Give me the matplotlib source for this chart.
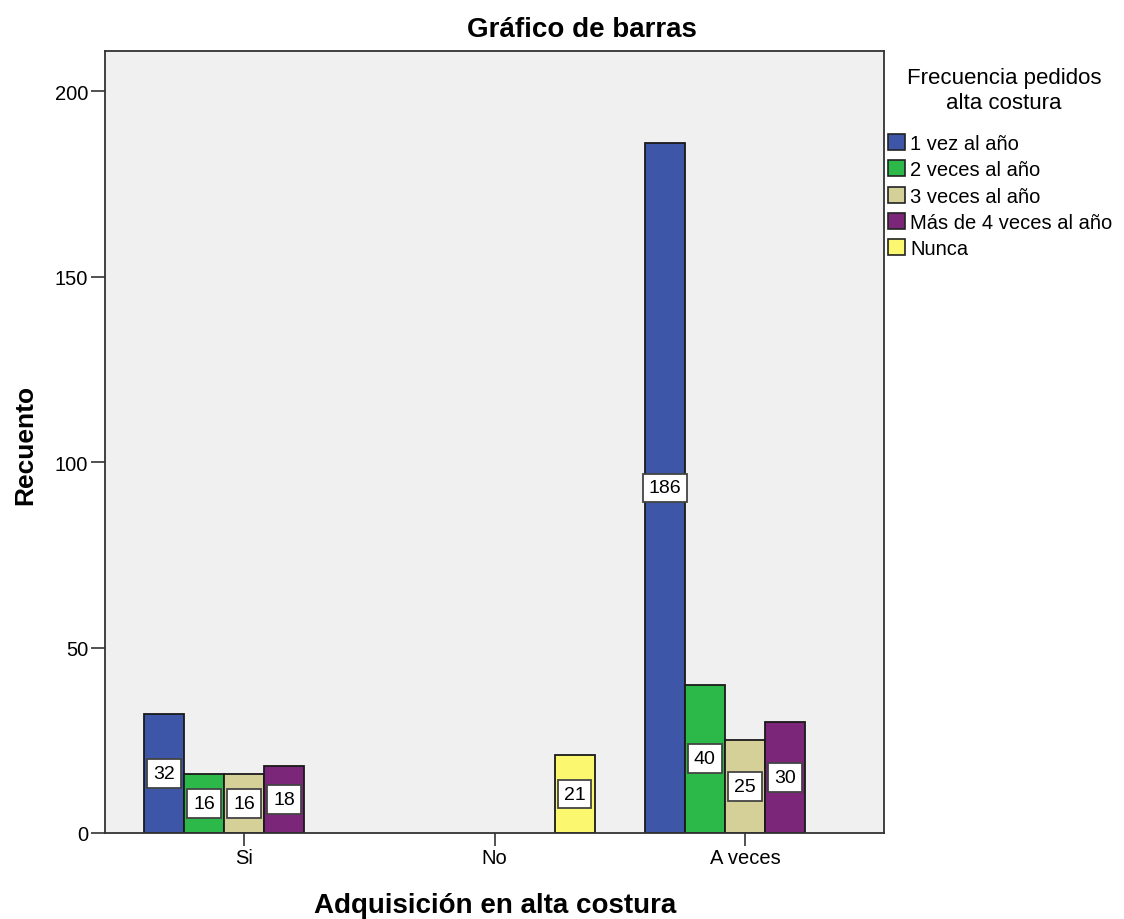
import matplotlib
matplotlib.use('Agg')
import matplotlib.pyplot as plt
from matplotlib.patches import Patch
import numpy as np

plt.rcParams['font.family'] = ['Liberation Sans', 'DejaVu Sans']

categories = ['Si', 'No', 'A veces']
series_names = ['1 vez al año', '2 veces al año', '3 veces al año',
                'Más de 4 veces al año', 'Nunca']
vez_1 = [32, np.nan, 186]
veces_2 = [16, np.nan, 40]
veces_3 = [16, np.nan, 25]
veces_4_mas = [18, np.nan, 30]
nunca = [np.nan, 21, np.nan]
series_values = [vez_1, veces_2, veces_3, veces_4_mas, nunca]
colors = ['#3D56A8', '#2DB84A', '#D5CF98', '#7B2678', '#FBF870']

fig = plt.figure(figsize=(11.24, 9.2), dpi=100)
ax = fig.add_axes([105/1124, 86/920, 779/1124, 782/920])
ax.set_facecolor('#F0F0F0')

x = np.arange(len(categories))
width = 0.16
for i, (name, vals, col) in enumerate(zip(series_names, series_values, colors)):
    offs = (i - 2) * width
    ax.bar(x + offs, vals, width, color=col, edgecolor='#1a1a1a', linewidth=1.3, zorder=2)
    for xi, v in zip(x, vals):
        if not np.isnan(v):
            ax.text(xi + offs, v / 2, f'{int(v)}', ha='center', va='center', fontsize=14,
                    zorder=3,
                    bbox=dict(boxstyle='square,pad=0.3', fc='white', ec='#444444', lw=1.3))

ax.set_xlim(-0.555, 2.555)
ax.set_ylim(0, 210.8)
ax.set_xticks(x)
ax.set_xticklabels(categories, fontsize=14.5)
ax.set_yticks([0, 50, 100, 150, 200])
ax.tick_params(axis='y', labelsize=14.5, length=10, width=1.2, color='#333333', pad=2)
ax.tick_params(axis='x', labelsize=14.5, length=9, width=1.2, color='#333333', pad=2)
for s in ax.spines.values():
    s.set_color('#333333')
    s.set_linewidth(1.3)

fig.text(582/1124, 1 - 30/920, 'Gráfico de barras', ha='center', va='center',
         fontsize=20, fontweight='bold')
fig.text(25/1124, 1 - 445/920, 'Recuento', ha='center', va='center', rotation=90,
         fontsize=19, fontweight='bold')
fig.text(495/1124, 1 - 906/920, 'Adquisición en alta costura', ha='center', va='center',
         fontsize=20, fontweight='bold')

# legend title
fig.text(1004/1124, 1 - 91/920, 'Frecuencia pedidos\nalta costura', ha='center',
         va='center', fontsize=16, linespacing=1.2)

handles = [Patch(facecolor=c, edgecolor='#222222', linewidth=1.2) for c in colors]
leg = fig.legend(handles, series_names, loc='upper left',
                 bbox_to_anchor=(888/1124, 1 - 135/920), frameon=False,
                 fontsize=14.5, handlelength=0.85, handleheight=0.85,
                 handletextpad=0.25, labelspacing=0.36, borderpad=0, borderaxespad=0)

fig.savefig('out.png', dpi=100)
